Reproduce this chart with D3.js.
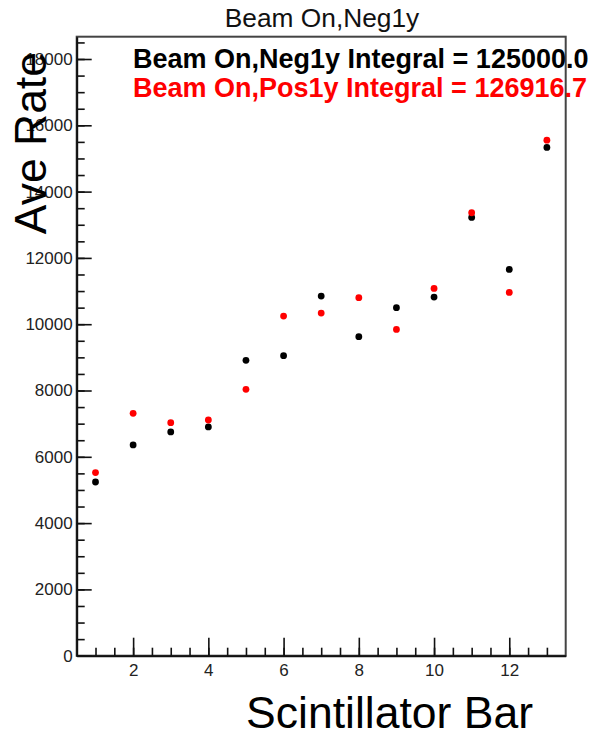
<!DOCTYPE html>
<html>
<head>
<meta charset="utf-8">
<script src="https://cdn.jsdelivr.net/npm/d3@7"></script>
<style>
  body { margin: 0; background: #fff; }
  svg { display: block; font-family: "Liberation Sans", Arial, sans-serif; }
</style>
</head>
<body>
<div id="chart"></div>
<script>
const bars = [1, 2, 3, 4, 5, 6, 7, 8, 9, 10, 11, 12, 13];
const negRate = [5240, 6357, 6749, 6900, 8910, 9050, 10849, 9624, 10498, 10818, 13221, 11653, 15332];
const posRate = [5524, 7311, 7030, 7110, 8035, 10246, 10336, 10799, 9844, 11080, 13362, 10960, 15552];
const xTicks = [2, 4, 6, 8, 10, 12];
const yTicks = [0, 2000, 4000, 6000, 8000, 10000, 12000, 14000, 16000, 18000];
const chartTitle = "Beam On,Neg1y";
const legendLabels = ["Beam On,Neg1y Integral = 125000.0", "Beam On,Pos1y Integral = 126916.7"];
const colors = ["#000000", "#ff0000"];

const W = 593, H = 736;
const padL = 76.7, padR = 565.7, padT = 36.7, padB = 655.7;

const svg = d3.select("#chart").append("svg")
  .attr("width", W).attr("height", H)
  .style("overflow", "hidden");

const x = d3.scaleLinear().domain([0.5, 13.5]).range([padL, padR]);
const y = d3.scaleLinear().domain([0, 18673]).range([padB, padT]);

// frame
svg.append("rect")
  .attr("x", padL).attr("y", padT)
  .attr("width", padR - padL).attr("height", padB - padT)
  .attr("fill", "none").attr("stroke", "#444").attr("stroke-width", 2);

// y axis: minor then major
svg.append("g")
  .attr("transform", `translate(${padL},0)`)
  .call(d3.axisLeft(y).tickValues(d3.range(0, 18673, 500)).tickFormat("").tickSizeInner(-8).tickSizeOuter(0))
  .call((g) => g.select(".domain").remove())
  .selectAll("line").attr("stroke", "#111").attr("stroke-width", 1.6);

const yAxis = svg.append("g")
  .attr("transform", `translate(${padL},0)`)
  .call(d3.axisLeft(y).tickValues(yTicks).tickFormat(d3.format("d")).tickSizeInner(-15).tickSizeOuter(0).tickPadding(4));
yAxis.select(".domain").attr("stroke", "#111").attr("stroke-width", 2);
yAxis.selectAll("line").attr("stroke", "#111").attr("stroke-width", 1.6);
yAxis.selectAll("text").attr("font-size", 17).attr("fill", "#222").attr("font-family", "Liberation Sans, Arial, sans-serif");

// x axis: minor then major
svg.append("g")
  .attr("transform", `translate(0,${padB})`)
  .call(d3.axisBottom(x).tickValues(d3.range(1, 13.01, 0.5)).tickFormat("").tickSizeInner(-8).tickSizeOuter(0))
  .call((g) => g.select(".domain").remove())
  .selectAll("line").attr("stroke", "#111").attr("stroke-width", 1.6);

const xAxis = svg.append("g")
  .attr("transform", `translate(0,${padB})`)
  .call(d3.axisBottom(x).tickValues(xTicks).tickFormat(d3.format("d")).tickSizeInner(-18).tickSizeOuter(0).tickPadding(8));
xAxis.select(".domain").attr("stroke", "#111").attr("stroke-width", 2);
xAxis.selectAll("line").attr("stroke", "#111").attr("stroke-width", 1.6);
xAxis.selectAll("text").attr("font-size", 17).attr("fill", "#222").attr("font-family", "Liberation Sans, Arial, sans-serif");

// points
[negRate, posRate].forEach((series, i) => {
  svg.append("g").selectAll("circle")
    .data(series)
    .join("circle")
    .attr("cx", (d, j) => x(bars[j]))
    .attr("cy", (d) => y(d))
    .attr("r", 3.4)
    .attr("fill", colors[i]);
});

// title
svg.append("text")
  .attr("x", 322).attr("y", 27)
  .attr("text-anchor", "middle")
  .attr("font-size", 26.3)
  .attr("fill", "#111")
  .text(chartTitle);

// legend text
legendLabels.forEach((t, i) => {
  svg.append("text")
    .attr("x", 133).attr("y", 68 + i * 29)
    .attr("font-size", 27)
    .attr("font-weight", "bold")
    .attr("fill", colors[i])
    .text(t);
});

// axis titles
svg.append("text")
  .attr("x", 533).attr("y", 728)
  .attr("text-anchor", "end")
  .attr("font-size", 44.5)
  .attr("fill", "#000")
  .text("Scintillator Bar");

svg.append("text")
  .attr("transform", "translate(46,52) rotate(-90)")
  .attr("text-anchor", "end")
  .attr("font-size", 44.5)
  .attr("fill", "#000")
  .text("Ave Rate");
</script>
</body>
</html>
